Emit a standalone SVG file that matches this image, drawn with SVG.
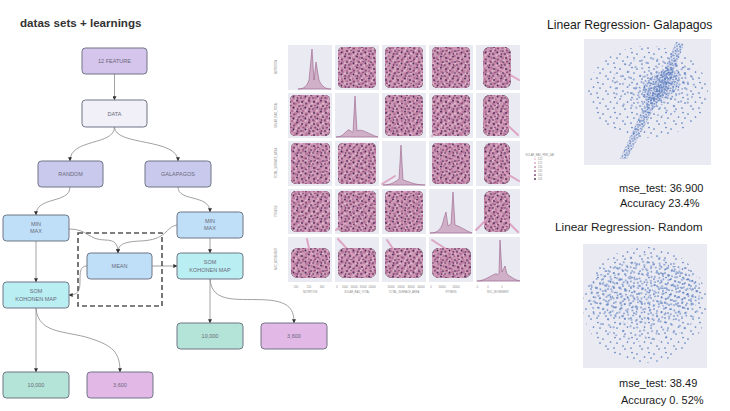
<svg xmlns="http://www.w3.org/2000/svg" width="730" height="411" viewBox="0 0 730 411">
<style>
.box{stroke:#707585;stroke-width:1}
.lbl{font-family:"Liberation Sans",Arial,sans-serif;font-size:5.5px;fill:#6a6a78;text-anchor:middle}
.con{fill:none;stroke:#8a8a8a;stroke-width:0.8}
.cell{fill:#eaeaf2}
.tick{font-family:"Liberation Sans",Arial,sans-serif;font-size:2.6px;fill:#888;text-anchor:middle}
.big{font-family:"Liberation Sans",Arial,sans-serif;fill:#1a1a1a}
</style>
<defs>
<marker id="ah" viewBox="0 0 6 6" refX="5.5" refY="3" markerWidth="4" markerHeight="4" orient="auto" markerUnits="userSpaceOnUse">
<path d="M0,0 L6,3 L0,6 Z" fill="#333"/>
</marker>
<pattern id="pp1" width="11" height="10" patternUnits="userSpaceOnUse">
<rect width="11" height="10" fill="#cc98b4"/>
<g fill="#b6739b"><circle cx="1.5" cy="2" r="1.4"/><circle cx="6" cy="1" r="1.3"/><circle cx="9.5" cy="4" r="1.4"/><circle cx="3.5" cy="6" r="1.3"/><circle cx="7.5" cy="8" r="1.4"/><circle cx="0.5" cy="9" r="1.2"/></g>
<g fill="#e0b6cc"><circle cx="4" cy="3.5" r="1.1"/><circle cx="8.7" cy="0.8" r="1"/><circle cx="1.6" cy="5.5" r="1"/><circle cx="10" cy="8.5" r="0.9"/></g>
</pattern>
<pattern id="pp2" width="12" height="11" patternUnits="userSpaceOnUse">
<g fill="#4b2b58"><circle cx="2" cy="3" r="0.9"/><circle cx="9" cy="1.5" r="0.9"/><circle cx="11" cy="7" r="0.85"/><circle cx="5.5" cy="8.5" r="0.9"/><circle cx="1" cy="10" r="0.8"/></g>
<g fill="#7d456f"><circle cx="6" cy="4.5" r="1"/><circle cx="9.5" cy="10" r="0.9"/><circle cx="3" cy="6.5" r="0.8"/></g>
</pattern>
<pattern id="b1" width="17" height="15" patternUnits="userSpaceOnUse">
<g fill="#5a7ec0"><circle cx="2" cy="3" r="0.85"/><circle cx="8" cy="9" r="0.85"/><circle cx="13" cy="4" r="0.85"/><circle cx="15.5" cy="12" r="0.85"/><circle cx="5" cy="13" r="0.85"/><circle cx="11" cy="1" r="0.85"/><circle cx="3" cy="7.5" r="0.85"/></g>
</pattern>
<pattern id="b2" width="19" height="21" patternUnits="userSpaceOnUse" patternTransform="rotate(37)">
<g fill="#5a7ec0"><circle cx="3" cy="4" r="0.85"/><circle cx="10" cy="2" r="0.85"/><circle cx="16" cy="7" r="0.85"/><circle cx="6" cy="11" r="0.85"/><circle cx="13" cy="15" r="0.85"/><circle cx="17" cy="19" r="0.85"/><circle cx="3" cy="18" r="0.85"/><circle cx="10" cy="9" r="0.85"/></g>
</pattern>
<pattern id="b3" width="11" height="9" patternUnits="userSpaceOnUse" patternTransform="rotate(71)">
<g fill="#5a7ec0"><circle cx="2" cy="2" r="0.85"/><circle cx="7" cy="3.5" r="0.85"/><circle cx="4.5" cy="7" r="0.85"/><circle cx="9.5" cy="8" r="0.85"/></g>
</pattern>
<pattern id="b4" width="6" height="5" patternUnits="userSpaceOnUse" patternTransform="rotate(20)">
<g fill="#5577bd"><circle cx="1" cy="1" r="0.85"/><circle cx="4" cy="1.6" r="0.85"/><circle cx="2.2" cy="3.8" r="0.85"/><circle cx="5.2" cy="4.3" r="0.85"/></g>
</pattern>
</defs>
<rect width="730" height="411" fill="#ffffff"/>

<text x="20" y="27" font-family="Liberation Sans,Arial,sans-serif" font-weight="bold" font-size="11.6" fill="#333">datas sets + learnings</text>

<g id="connectors">
<path class="con" d="M114.5,74 L114.5,100" marker-end="url(#ah)"/>
<path class="con" d="M114.5,127 C114.5,146 70,138 70,161" marker-end="url(#ah)"/>
<path class="con" d="M114.5,127 C114.5,146 178,138 178,161" marker-end="url(#ah)"/>
<path class="con" d="M70,187 C70,204 36,196 36,215" marker-end="url(#ah)"/>
<path class="con" d="M178,187 C178,202 210,194 210,212" marker-end="url(#ah)"/>
<path class="con" d="M69,229 C88,229 88,240 105,240 C115,240 118,244 118,253" marker-end="url(#ah)"/>
<path class="con" d="M177,225 C165,227 168,240 140,241 C122,242 118,245 118,253" marker-end="url(#ah)"/>
<path class="con" d="M36,241 L36,282" marker-end="url(#ah)"/>
<path class="con" d="M210,238 L210,253" marker-end="url(#ah)"/>
<path class="con" d="M152,266 L177,266" marker-end="url(#ah)"/>
<path class="con" d="M87,266 C80,266 80,272 80,282 C80,292 77,295 69,295" marker-end="url(#ah)"/>
<path class="con" d="M36,308 L36,372" marker-end="url(#ah)"/>
<path class="con" d="M36,308 C38,336 70,330 95,340 C115,347 120,355 120,372" marker-end="url(#ah)"/>
<path class="con" d="M210,279 L210,323" marker-end="url(#ah)"/>
<path class="con" d="M210,279 C212,305 240,298 268,300 C290,302 294,310 294,323" marker-end="url(#ah)"/>
</g>

<rect id="group-box" x="78" y="233" width="84" height="73" fill="none" stroke="#555" stroke-width="1.6" stroke-dasharray="5,3"/>

<g id="n-feature"><rect class="box" x="82" y="48" width="65" height="26" rx="3.5" fill="#d5c4ec"/><text class="lbl" x="114.5" y="63">12 FEATURE</text></g>
<g id="n-data"><rect class="box" x="82" y="100" width="65" height="27" rx="3.5" fill="#f1f0f8"/><text class="lbl" x="114.5" y="115.5">DATA</text></g>
<g id="n-random"><rect class="box" x="38" y="161" width="65" height="26" rx="3.5" fill="#c9c9ee"/><text class="lbl" x="70.5" y="176">RANDOM</text></g>
<g id="n-galapagos"><rect class="box" x="145" y="161" width="66" height="26" rx="3.5" fill="#c9c9ee"/><text class="lbl" x="178" y="176">GALAPAGOS</text></g>
<g id="n-minmax-l"><rect class="box" x="3" y="215" width="66" height="26" rx="3.5" fill="#bfdff8"/><text class="lbl" x="36" y="226">MIN</text><text class="lbl" x="36" y="233">MAX</text></g>
<g id="n-minmax-r"><rect class="box" x="177" y="212" width="66" height="26" rx="3.5" fill="#bfdff8"/><text class="lbl" x="210" y="223">MIN</text><text class="lbl" x="210" y="230">MAX</text></g>
<g id="n-mean"><rect class="box" x="87" y="253" width="65" height="26" rx="3.5" fill="#bfdff8"/><text class="lbl" x="119.5" y="268">MEAN</text></g>
<g id="n-som-r"><rect class="box" x="177" y="253" width="66" height="26" rx="3.5" fill="#b9eef2"/><text class="lbl" x="210" y="264">SOM</text><text class="lbl" x="210" y="271.5">KOHONEN MAP</text></g>
<g id="n-som-l"><rect class="box" x="3" y="282" width="66" height="26" rx="3.5" fill="#b9eef2"/><text class="lbl" x="36" y="293">SOM</text><text class="lbl" x="36" y="300.5">KOHONEN MAP</text></g>
<g id="n-10000-r"><rect class="box" x="177" y="323" width="66" height="26" rx="3.5" fill="#b4e3d7"/><text class="lbl" x="210" y="338">10,000</text></g>
<g id="n-3600-r"><rect class="box" x="261" y="323" width="66" height="26" rx="3.5" fill="#e2b8e7"/><text class="lbl" x="294" y="338">3,600</text></g>
<g id="n-10000-l"><rect class="box" x="3" y="372" width="66" height="26" rx="3.5" fill="#b4e3d7"/><text class="lbl" x="36" y="387">10,000</text></g>
<g id="n-3600-l"><rect class="box" x="87" y="372" width="66" height="26" rx="3.5" fill="#e2b8e7"/><text class="lbl" x="120" y="387">3,600</text></g>

<!-- pair plot -->
<g id="pairplot">
<g class="cell">
<rect x="288" y="45" width="44" height="45"/><rect x="335" y="45" width="44" height="45"/><rect x="382" y="45" width="44" height="45"/><rect x="429" y="45" width="44" height="45"/><rect x="476" y="45" width="44" height="45"/>
<rect x="288" y="93" width="44" height="45"/><rect x="335" y="93" width="44" height="45"/><rect x="382" y="93" width="44" height="45"/><rect x="429" y="93" width="44" height="45"/><rect x="476" y="93" width="44" height="45"/>
<rect x="288" y="141" width="44" height="45"/><rect x="335" y="141" width="44" height="45"/><rect x="382" y="141" width="44" height="45"/><rect x="429" y="141" width="44" height="45"/><rect x="476" y="141" width="44" height="45"/>
<rect x="288" y="189" width="44" height="45"/><rect x="335" y="189" width="44" height="45"/><rect x="382" y="189" width="44" height="45"/><rect x="429" y="189" width="44" height="45"/><rect x="476" y="189" width="44" height="45"/>
<rect x="288" y="237" width="44" height="45"/><rect x="335" y="237" width="44" height="45"/><rect x="382" y="237" width="44" height="45"/><rect x="429" y="237" width="44" height="45"/><rect x="476" y="237" width="44" height="45"/>
</g>
<g id="pp-clouds">
<rect x="338" y="47" width="38" height="41" rx="5"/><rect x="385" y="47" width="38" height="41" rx="5"/><rect x="432" y="47" width="38" height="41" rx="5"/><rect x="483" y="47" width="28" height="41" rx="7"/>
<rect x="290" y="95" width="40" height="41" rx="5"/><rect x="385" y="95" width="38" height="41" rx="5"/><rect x="432" y="95" width="38" height="41" rx="5"/><rect x="483" y="95" width="26" height="41" rx="7"/>
<rect x="291" y="143" width="39" height="41" rx="5"/><rect x="338" y="143" width="38" height="41" rx="5"/><rect x="432" y="143" width="38" height="41" rx="5"/><rect x="484" y="143" width="26" height="41" rx="7"/>
<rect x="291" y="191" width="39" height="41" rx="5"/><rect x="338" y="191" width="38" height="41" rx="5"/><rect x="385" y="191" width="38" height="41" rx="5"/><rect x="484" y="191" width="26" height="41" rx="7"/>
<rect x="291" y="248" width="39" height="30" rx="7"/><rect x="338" y="248" width="38" height="30" rx="7"/><rect x="385" y="248" width="38" height="30" rx="7"/><rect x="432" y="248" width="39" height="30" rx="7"/>
</g>
<use href="#pp-clouds" fill="url(#pp1)"/>
<g stroke="#dca0bf" stroke-width="2" stroke-linecap="round" fill="none" opacity="0.9">
<path d="M498,68 L519,80"/><path d="M500,118 L518,135"/><path d="M497,168 L519,181"/><path d="M498,212 L518,232"/>
<path d="M307,239 L312,262"/><path d="M338,239 L372,276"/><path d="M387,240 L405,266"/><path d="M432,240 L460,258"/>
<path d="M432,136 L450,124"/><path d="M336,230 L345,222"/><path d="M382,184 L395,176"/><path d="M476,230 L486,220"/>
</g>
<use href="#pp-clouds" fill="url(#pp2)"/>
<g fill="#b06a95" fill-opacity="0.45" stroke="#8c4d78" stroke-width="0.5">
<path d="M298,89 C304,89 307,86 309,80 L312,49 L314,80 L316,62 L319,80 C322,87 326,89 331,89 Z"/>
<path d="M336,137 C343,137 345,132 348,130 C351,129 352,134 353,132 L355,96 L357,131 C362,128 368,134 378,137 Z"/>
<path d="M383,185 C392,185 396,181 399,179 L401,145 L403,180 C408,181 414,185 425,185 Z"/>
<path d="M430,233 C438,233 442,229 444,218 L446,212 L448,226 L451,224 L453,192 L455,225 C460,226 466,231 472,233 Z"/>
<path d="M477,281 C484,281 490,276 495,274 C497,273 498,276 499,273 L500,240 L502,272 L505,266 L507,274 C511,277 515,280 520,281 Z"/>
</g>
<g class="tick">
<text x="296" y="288">200</text><text x="309" y="288">250</text><text x="322" y="288">300</text>
<text x="337" y="288">0</text><text x="345" y="288">5000</text><text x="354" y="288">10000</text><text x="363" y="288">15000</text><text x="372" y="288">20000</text>
<text x="391" y="288">10000</text><text x="401" y="288">20000</text><text x="411" y="288">30000</text><text x="421" y="288">40000</text>
<text x="431" y="288">0</text><text x="442" y="288">10000</text><text x="456" y="288">20000</text>
<text x="477" y="288">-5</text><text x="488" y="288">0</text><text x="502" y="288">5</text>
<text x="310" y="292.5">NUTRITION</text><text x="357" y="292.5">SOLAR_RAD_TOTAL</text><text x="404" y="292.5">TOTAL_SURFACE_AREA</text><text x="451" y="292.5">FITNESS</text><text x="498" y="292.5">NVC_MOVEMENT</text>
<text transform="translate(277,67) rotate(-90)">NUTRITION</text>
<text transform="translate(277,115) rotate(-90)">SOLAR_RAD_TOTAL</text>
<text transform="translate(277,163) rotate(-90)">TOTAL_SURFACE_AREA</text>
<text transform="translate(277,211) rotate(-90)">FITNESS</text>
<text transform="translate(277,259) rotate(-90)">NVC_MOVEMENT</text>
</g>
</g>

<g id="legend">
<text class="tick" x="540" y="155.5">SOLAR_RAD_PER_DAY</text>
<circle cx="535" cy="159" r="0.9" fill="#e8c4d6"/><circle cx="535" cy="163" r="0.9" fill="#d9a4c0"/><circle cx="535" cy="167" r="0.9" fill="#c27ea7"/><circle cx="535" cy="171" r="0.9" fill="#9c5a8c"/><circle cx="535" cy="175" r="0.9" fill="#6e3c6e"/><circle cx="535" cy="179" r="0.9" fill="#3e2348"/>
<g class="tick" text-anchor="start"><text x="540" y="160">120</text><text x="540" y="164">125</text><text x="540" y="168">130</text><text x="540" y="172">135</text><text x="540" y="176">140</text><text x="540" y="180">145</text></g>
</g>

<!-- Galapagos regression -->
<g id="plot-galapagos">
<text class="big" x="547" y="29" font-size="12.2">Linear Regression- Galapagos</text>
<rect x="584" y="39" width="127" height="126" fill="#eaeaf2"/>
<ellipse cx="648" cy="92" rx="60" ry="46" fill="url(#b1)"/>
<ellipse cx="655" cy="86" rx="44" ry="30" fill="url(#b2)"/>
<ellipse cx="660" cy="86" rx="30" ry="18" fill="url(#b3)" transform="rotate(-30 660 86)"/>
<ellipse cx="661" cy="86" rx="21" ry="13" fill="url(#b4)" transform="rotate(-35 661 86)"/>
<polygon points="620,159 627,159 652,112 668,86 684,44 676,42 660,80 643,108" fill="url(#b4)"/>
<polygon points="620,159 627,159 652,112 668,86 684,44 676,42 660,80 643,108" fill="url(#b3)"/>
<text class="big" x="619" y="192" font-size="11">mse_test: 36.900</text>
<text class="big" x="620" y="207" font-size="11">Accuracy 23.4%</text>
</g>

<!-- Random regression -->
<g id="plot-random">
<text class="big" x="555" y="231" font-size="11.8">Linear Regression- Random</text>
<rect x="583" y="244" width="124" height="124" fill="#eaeaf2"/>
<ellipse cx="645" cy="305" rx="62" ry="58" fill="url(#b1)"/>
<ellipse cx="645" cy="298" rx="58" ry="44" fill="url(#b2)"/>
<ellipse cx="645" cy="293" rx="55" ry="32" fill="url(#b3)"/>
<ellipse cx="620" cy="290" rx="25" ry="18" fill="url(#b2)" transform="translate(5,3) rotate(20 620 290)"/>
<ellipse cx="672" cy="286" rx="24" ry="22" fill="url(#b1)" transform="translate(4,2)"/>
<text class="big" x="619" y="387" font-size="11">mse_test: 38.49</text>
<text class="big" x="621" y="404" font-size="11">Accuracy 0. 52%</text>
</g>
</svg>
